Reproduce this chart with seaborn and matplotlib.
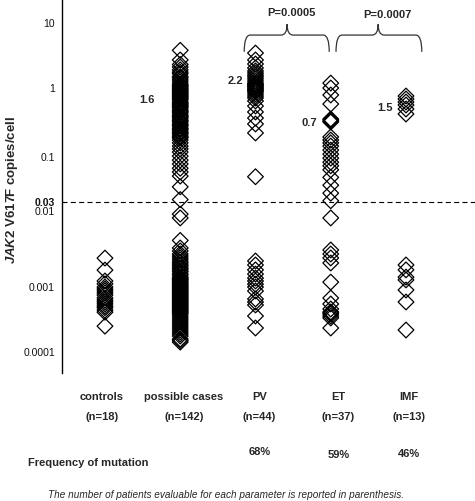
import numpy as np
import pandas as pd
import matplotlib
matplotlib.use("Agg")
import matplotlib.pyplot as plt
import seaborn as sns
from matplotlib.path import Path
from matplotlib.patches import PathPatch
from matplotlib import transforms
from matplotlib.ticker import NullLocator

# ---------------- data ----------------
categories = ["controls", "possible cases", "PV", "ET", "IMF"]
n_labels = ["(n=18)", "(n=142)", "(n=44)", "(n=37)", "(n=13)"]
freq_labels = ["", "", "68%", "59%", "46%"]
median_labels = ["", "1.6", "2.2", "0.7", "1.5"]
p_labels = ["P=0.0005", "P=0.0007"]
threshold = 0.03
ytick_values = [10, 1, 0.1, 0.03, 0.01, 0.001, 0.0001]
ytick_labels = ["10", "1", "0.1", "0.03", "0.01", "0.001", "0.0001"]

controls = [0.0024, 0.00167, 0.0012, 0.0011, 0.001, 0.00093, 0.00087, 0.00081,
            0.00075, 0.00068, 0.00063, 0.00059, 0.00055, 0.00051, 0.00048,
            0.00044, 0.00041, 0.00025]

possible_cases = [
    3.8, 2.7, 2.3, 2.1, 1.9, 1.75, 1.65, 1.5, 1.43, 1.33, 1.24,
    1.15, 1.11, 1.07, 1.04, 1.0, 0.97, 0.935, 0.905, 0.875, 0.846, 0.818,
    0.792, 0.765, 0.741, 0.716, 0.693, 0.67, 0.627, 0.606, 0.586, 0.567,
    0.548, 0.53, 0.513, 0.48, 0.464, 0.449, 0.434, 0.406, 0.393, 0.38,
    0.367, 0.344, 0.332, 0.322, 0.301, 0.291, 0.281, 0.263, 0.255, 0.246,
    0.231, 0.223, 0.216, 0.202, 0.195, 0.189, 0.176,
    0.16, 0.144, 0.131, 0.118, 0.103, 0.092, 0.083, 0.074, 0.067, 0.06,
    0.045, 0.032, 0.0091, 0.0081, 0.0041,
    0.00326, 0.00298, 0.00272, 0.00256, 0.00241, 0.00227, 0.00213, 0.00207,
    0.00195, 0.00189, 0.00178, 0.00173, 0.00163, 0.00158, 0.00148, 0.00144,
    0.00135, 0.00131, 0.00127, 0.00124, 0.0012, 0.00116, 0.00113, 0.00109,
    0.00106, 0.00103, 0.001, 0.000965, 0.000932, 0.000899, 0.000868,
    0.000838, 0.000809, 0.000781, 0.000753, 0.000727, 0.000702, 0.000677,
    0.000654, 0.000631, 0.000609, 0.000588, 0.000567, 0.000548, 0.000529,
    0.00051, 0.000492, 0.000475, 0.000459, 0.000443, 0.000427, 0.000413,
    0.000398, 0.000384, 0.000358, 0.000334, 0.000311, 0.00029, 0.00027,
    0.000251, 0.000234, 0.000218, 0.000203, 0.000189, 0.000176, 0.000158,
    0.00015, 0.000142]

pv = [3.45, 2.7, 2.34, 2.03, 1.83, 1.7, 1.58, 1.48, 1.38, 1.28, 1.19, 1.15,
      1.11, 1.07, 1.04, 1.0, 0.967, 0.935, 0.905, 0.875, 0.818, 0.765, 0.716,
      0.648, 0.548, 0.449, 0.367, 0.301, 0.223, 0.059,
      0.0022, 0.00195, 0.00168, 0.00148, 0.00131, 0.0012, 0.00109, 0.001,
      0.000868, 0.000654, 0.000588, 0.000529, 0.000358, 0.000234]

et = [1.19, 1.0, 0.792, 0.586, 0.355, 0.344, 0.332, 0.322, 0.195, 0.176,
      0.16, 0.144, 0.126, 0.11, 0.097, 0.087, 0.079, 0.071, 0.058, 0.047,
      0.038, 0.031,
      0.0081, 0.00307, 0.00272, 0.00241, 0.00207, 0.00116, 0.000677,
      0.000548, 0.000459, 0.000413, 0.000398, 0.000384, 0.000358, 0.000334,
      0.000234]

imf = [0.765, 0.693, 0.627, 0.567, 0.496, 0.42,
       0.00195, 0.00168, 0.00135, 0.00124, 0.000899, 0.000588, 0.000218]

series = [controls, possible_cases, pv, et, imf]
df = pd.DataFrame({
    "group": np.concatenate([[c] * len(s) for c, s in zip(categories, series)]),
    "value": np.concatenate([np.asarray(s, float) for s in series]),
})

# ---------------- style ----------------
sns.set_style("white")
plt.rcParams["font.family"] = ["Liberation Sans", "DejaVu Sans"]
plt.rcParams["mathtext.fontset"] = "custom"
plt.rcParams["mathtext.it"] = "Liberation Sans:bold:italic"
plt.rcParams["mathtext.rm"] = "Liberation Sans:bold"
plt.rcParams["mathtext.bf"] = "Liberation Sans:bold"

fig = plt.figure(figsize=(4.75, 5.01), dpi=100)
W, H = 475, 501
ax_left, ax_top, ax_bottom, ax_right = 62, 0, 373, 475
ax = fig.add_axes([ax_left / W, 1 - ax_bottom / H,
                   (ax_right - ax_left) / W, (ax_bottom - ax_top) / H])

sns.stripplot(data=df, x="group", y="value", order=categories, jitter=False,
              marker="D", size=8.0, linewidth=0.9, edgecolor="black",
              color="white", ax=ax, zorder=3)
for c in ax.collections:
    c.set_facecolor("none")
    c.set_edgecolor("black")
    c.set_linewidth(0.9)

# non-uniform log axis as in the original figure
_logs = np.array([-6, -4, -3, -2, np.log10(0.03), -1, 0, 1, 3], float)
_pos = -np.array([482, 352, 287, 211, 202, 157, 88, 23, -107], float)


def fwd(v):
    v = np.asarray(v, float)
    return np.interp(np.log10(np.clip(v, 1e-12, None)), _logs, _pos)


def inv(u):
    return 10 ** np.interp(np.asarray(u, float), _pos, _logs)


ax.set_yscale("function", functions=(fwd, inv))
ax.set_ylim(inv(-373.0), inv(0.0))
ax.set_xlim(-0.571, 4.917)

ax.set_yticks(ytick_values)
ax.set_yticklabels(ytick_labels)
ax.yaxis.set_minor_locator(NullLocator())
ax.tick_params(axis="y", length=0, pad=5, labelsize=7.5, labelcolor="#111111")
for lab in ax.get_yticklabels():
    if lab.get_text() == "0.03":
        lab.set_fontweight("bold")
ax.set_xticks([])
ax.set_xlabel("")

for s in ["top", "right", "bottom"]:
    ax.spines[s].set_visible(False)
ax.spines["left"].set_color("black")
ax.spines["left"].set_linewidth(1.0)

ax.set_ylabel(r"$\mathit{JAK2}$ V617F copies/cell", fontsize=9.5,
              fontweight="bold")
ax.yaxis.set_label_coords(-0.102, 0.49)

ax.axhline(threshold, color="black", lw=0.8, ls=(0, (4.5, 3)), zorder=1,
           clip_on=False)

blend = transforms.blended_transform_factory(ax.transData, ax.transAxes)

# median annotations
med_dx = [0, -0.44, -0.27, -0.28, -0.28]
med_y = [0, 0.732, 0.783, 0.670, 0.710]
for i, t in enumerate(median_labels):
    if t:
        ax.text(i + med_dx[i], med_y[i], t, transform=blend, ha="center",
                va="center", fontsize=8, fontweight="bold")


# curly braces with p values
def brace(xa, xb, xm, ybot, ymid, ytop, r=0.08):
    verts = [(xa, ybot), (xa, ymid), (xa + r, ymid), (xm - r, ymid),
             (xm, ymid), (xm, ytop), (xm, ymid), (xm + r, ymid),
             (xb - r, ymid), (xb, ymid), (xb, ybot)]
    codes = [Path.MOVETO, Path.CURVE3, Path.CURVE3, Path.LINETO,
             Path.CURVE3, Path.CURVE3, Path.CURVE3, Path.CURVE3,
             Path.LINETO, Path.CURVE3, Path.CURVE3]
    ax.add_patch(PathPatch(Path(verts, codes), transform=blend, fc="none",
                           ec="#333333", lw=0.9, clip_on=False))


brace(2 - 0.15, 3 - 0.02, 2 + 0.42, 0.861, 0.906, 0.935)
brace(3 + 0.07, 4 + 0.21, 3 + 0.63, 0.861, 0.906, 0.935)
ax.text(2 + 0.48, 0.965, p_labels[0], transform=blend, ha="center",
        va="center", fontsize=8, fontweight="bold")
ax.text(3 + 0.75, 0.960, p_labels[1], transform=blend, ha="center",
        va="center", fontsize=8, fontweight="bold")

# category labels below the plot
lab_dx = [-0.04, 0.05, 0.05, 0.1, 0.04]
for i, (c, n) in enumerate(zip(categories, n_labels)):
    ax.text(i + lab_dx[i], 1 - 397 / 373, c, transform=blend, ha="center",
            va="center", fontsize=8, fontweight="bold", clip_on=False)
    ax.text(i + lab_dx[i], 1 - 417 / 373, n, transform=blend, ha="center",
            va="center", fontsize=8, fontweight="bold", clip_on=False)
freq_y = [0, 0, 452, 455, 454]
for i, f in enumerate(freq_labels):
    if f:
        ax.text(i + lab_dx[i], 1 - freq_y[i] / 373, f, transform=blend,
                ha="center", va="center", fontsize=8, fontweight="bold",
                clip_on=False)

fig.text(28 / W, 1 - 463 / H, "Frequency of mutation", ha="left",
         va="center", fontsize=8, fontweight="bold")
fig.text(226 / W, 1 - 495 / H,
         "The number of patients evaluable for each parameter is reported in parenthesis.",
         ha="center", va="center", fontsize=7.2, style="italic")

fig.savefig("out.png", dpi=100)
